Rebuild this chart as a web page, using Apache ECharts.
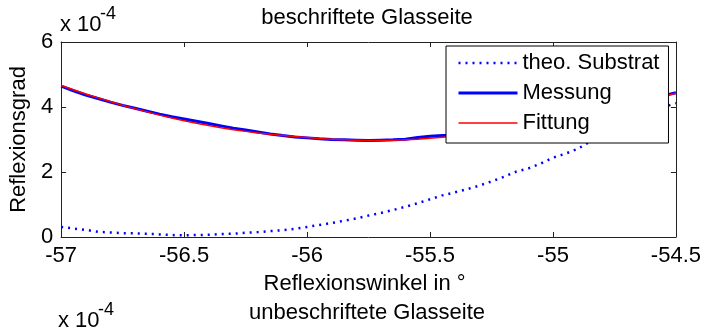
<!DOCTYPE html>
<html>
<head>
<meta charset="utf-8">
<script src="https://cdn.jsdelivr.net/npm/echarts@6/dist/echarts.min.js"></script>
<style>
html,body{margin:0;padding:0;background:#fff;}
#c{width:704px;height:327px;}
</style>
</head>
<body>
<div id="c"></div>
<script>
// Reflexionswinkel in ° (x values)
var angles = [-57.00,-56.95,-56.90,-56.85,-56.80,-56.75,-56.70,-56.65,-56.60,-56.55,
  -56.50,-56.45,-56.40,-56.35,-56.30,-56.25,-56.20,-56.15,-56.10,-56.05,
  -56.00,-55.95,-55.90,-55.85,-55.80,-55.75,-55.70,-55.65,-55.60,-55.55,
  -55.50,-55.45,-55.40,-55.35,-55.30,-55.25,-55.20,-55.15,-55.10,-55.05,
  -55.00,-54.95,-54.90,-54.85,-54.80,-54.75,-54.70,-54.65,-54.60,-54.55,-54.50];
// values in units of 1e-4
var substrat = [0.31,0.26,0.22,0.16,0.14,0.12,0.11,0.10,0.08,0.06,
  0.05,0.06,0.07,0.09,0.10,0.13,0.15,0.18,0.21,0.25,
  0.31,0.37,0.43,0.50,0.57,0.66,0.74,0.83,0.93,1.04,
  1.16,1.28,1.37,1.47,1.58,1.71,1.85,2.01,2.11,2.26,
  2.44,2.56,2.71,2.93,3.12,3.31,3.50,3.67,3.84,4.00,4.12];
var messung = [4.64,4.50,4.37,4.26,4.15,4.05,3.96,3.87,3.78,3.70,
  3.63,3.56,3.49,3.42,3.35,3.29,3.23,3.17,3.12,3.08,
  3.05,3.02,3.00,2.99,2.98,2.97,2.98,2.99,3.01,3.06,
  3.10,3.12,3.13,3.16,3.20,3.25,3.30,3.36,3.43,3.50,
  3.57,3.65,3.73,3.82,3.91,3.99,4.08,4.17,4.26,4.35,4.44];
var fittung = [4.66,4.53,4.40,4.28,4.17,4.05,3.95,3.85,3.75,3.66,
  3.58,3.50,3.43,3.36,3.30,3.25,3.20,3.16,3.12,3.09,
  3.06,3.03,3.01,2.99,2.98,2.97,2.97,2.98,2.99,3.01,
  3.04,3.07,3.10,3.14,3.19,3.24,3.30,3.36,3.43,3.50,
  3.57,3.65,3.73,3.82,3.91,4.00,4.09,4.18,4.26,4.34,4.42];
var seriesNames = ['theo. Substrat','Messung','Fittung'];
var xTicks = {min:-57, max:-54.5, interval:0.5};
var yTicks = {min:0, max:6, interval:2};

function pairs(ys){ return angles.map(function(x,i){ return [x, ys[i]]; }); }

var FONT = '"Liberation Sans", Arial, sans-serif';
var axisCol = '#222';
var chart = echarts.init(document.getElementById('c'), null, {renderer:'canvas'});
var baseX = {
  type:'value', min:xTicks.min, max:xTicks.max, interval:xTicks.interval,
  axisLine:{show:true, onZero:false, lineStyle:{color:axisCol, width:1}},
  axisTick:{show:true, inside:true, length:5, lineStyle:{color:axisCol}},
  splitLine:{show:false}
};
var baseY = {
  type:'value', min:yTicks.min, max:yTicks.max, interval:yTicks.interval,
  axisLine:{show:true, onZero:false, lineStyle:{color:axisCol, width:1}},
  axisTick:{show:true, inside:true, length:5, lineStyle:{color:axisCol}},
  splitLine:{show:false}
};
var lineStyles = [
  {color:'#0000ff', width:2.5, type:[2,5]},
  {color:'#0000ff', width:3, type:'solid'},
  {color:'#ff0000', width:1.5, type:'solid'}
];
chart.setOption({
  animation:false,
  backgroundColor:'#fff',
  textStyle:{fontFamily:FONT},
  grid:{left:61, right:23, top:42, bottom:90, containLabel:false},
  xAxis:[
    Object.assign({}, baseX, {
      position:'bottom',
      axisLabel:{show:true, color:'#000', fontSize:22, fontFamily:FONT, margin:8, lineHeight:22, showMinLabel:true, showMaxLabel:true},
      name:'Reflexionswinkel in °', nameLocation:'middle', nameGap:36,
      nameTextStyle:{color:'#000', fontSize:22, fontFamily:FONT, padding:[0,8,0,0]}
    }),
    Object.assign({}, baseX, {position:'top', axisLabel:{show:false}})
  ],
  yAxis:[
    Object.assign({}, baseY, {
      position:'left',
      axisLabel:{show:true, color:'#000', fontSize:22, fontFamily:FONT, margin:8},
      name:'Reflexionsgrad', nameLocation:'middle', nameGap:28,
      nameTextStyle:{color:'#000', fontSize:22, fontFamily:FONT}
    }),
    Object.assign({}, baseY, {position:'right', axisLabel:{show:false}})
  ],
  legend:{
    orient:'vertical', left:446, top:46,
    data:seriesNames.map(function(n,i){ return {name:n, lineStyle:lineStyles[i], itemStyle:{opacity:0, borderWidth:0}}; }),
    itemStyle:{opacity:0, borderWidth:0},
    backgroundColor:'#fff', borderColor:'#000', borderWidth:1,
    padding:[6,9,9,11], itemGap:8, itemWidth:59, itemHeight:22,
    textStyle:{color:'#000', fontSize:22, fontFamily:FONT},
    z:10
  },
  graphic:[
    {type:'text', style:{text:'beschriftete Glasseite', x:367, y:18, align:'center', verticalAlign:'middle', fill:'#000', font:'22px '+FONT}},
    {type:'text', style:{text:'x 10', x:60, y:25, align:'left', verticalAlign:'middle', fill:'#000', font:'22px '+FONT}},
    {type:'text', style:{text:'-4', x:100, y:14, align:'left', verticalAlign:'middle', fill:'#000', font:'18px '+FONT}},
    {type:'text', style:{text:'x 10', x:58, y:321, align:'left', verticalAlign:'middle', fill:'#000', font:'22px '+FONT}},
    {type:'text', style:{text:'-4', x:98, y:310, align:'left', verticalAlign:'middle', fill:'#000', font:'18px '+FONT}},
    {type:'text', style:{text:'unbeschriftete Glasseite', x:367, y:313, align:'center', verticalAlign:'middle', fill:'#000', font:'22px '+FONT}}
  ],
  series:[
    {name:seriesNames[0], type:'line', data:pairs(substrat), symbol:'none',
      lineStyle:lineStyles[0], itemStyle:{color:'#0000ff'}},
    {name:seriesNames[1], type:'line', data:pairs(messung), symbol:'none',
      lineStyle:lineStyles[1], itemStyle:{color:'#0000ff'}},
    {name:seriesNames[2], type:'line', data:pairs(fittung), symbol:'none',
      lineStyle:lineStyles[2], itemStyle:{color:'#ff0000'}}
  ]
});
</script>
</body>
</html>
